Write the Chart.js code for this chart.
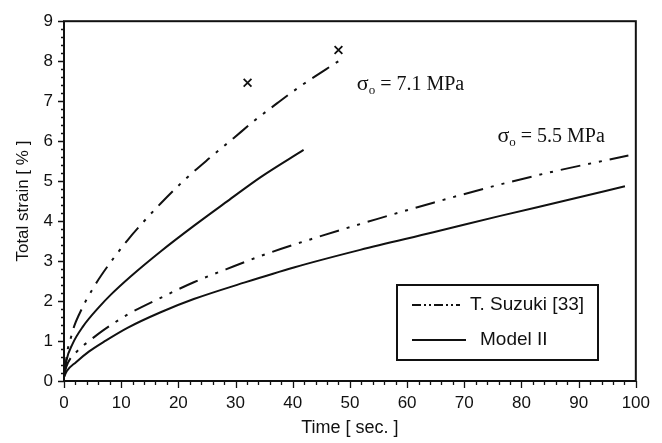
<!DOCTYPE html>
<html>
<head>
<meta charset="utf-8">
<title>Total strain vs time</title>
<script src="https://cdn.jsdelivr.net/npm/chart.js@4/dist/chart.umd.min.js"></script>
<style>
    html, body { margin: 0; padding: 0; background: #fff; }
    #wrap { width: 662px; height: 443px; }
</style>
</head>
<body>
<div id="wrap"><canvas id="strainChart" width="662" height="443"></canvas></div>
<script>
// time [s] and total strain [%] for each curve
const suzukiHighT = [0, 0.2, 0.6, 1.2, 1.8, 2.6, 3.8, 5.3, 6.5, 11.1, 13.7, 16.9, 21.0, 25.4, 29.7, 33.2, 37.3, 41.4, 48.0];
const suzukiHighS = [0.1, 0.3, 0.75, 1.08, 1.38, 1.65, 2.0, 2.37, 2.64, 3.52, 3.95, 4.44, 5.02, 5.57, 6.08, 6.5, 6.95, 7.38, 8.0];

const modelHighT = [0, 0.4, 1.5, 3.3, 6.2, 8.2, 11.7, 16.9, 22.7, 28.6, 34.4, 41.9];
const modelHighS = [0.1, 0.5, 0.93, 1.36, 1.86, 2.16, 2.62, 3.24, 3.88, 4.5, 5.1, 5.78];

const suzukiLowT = [0, 0.4, 2.4, 4.4, 6.0, 11.1, 16.9, 22.7, 29.7, 35.6, 43.7, 54.7, 64.6, 74.5, 85.0, 98.7];
const suzukiLowS = [0.1, 0.35, 0.76, 1.0, 1.18, 1.66, 2.08, 2.47, 2.87, 3.19, 3.57, 4.05, 4.46, 4.85, 5.22, 5.64];

const modelLowT = [0, 0.5, 2.1, 4.4, 7.3, 11.1, 16.9, 22.7, 31.5, 40.2, 51.8, 64.6, 76.3, 87.9, 98.1];
const modelLowS = [0.1, 0.25, 0.47, 0.74, 1.01, 1.33, 1.72, 2.05, 2.46, 2.84, 3.28, 3.72, 4.13, 4.52, 4.87];

// rupture points (x markers)
const ruptureT = [32.1, 48.0];
const ruptureS = [7.46, 8.28];

// stress labels: text and anchor in data units
const stressLabels = [
    { value: '7.1 MPa', t: 51.2, s: 7.27 },
    { value: '5.5 MPa', t: 75.8, s: 5.99 }
];

const legendItems = ['T. Suzuki [33]', 'Model II'];

const xMin = 0, xMax = 100, xStep = 10, xMinor = 2;
const yMin = 0, yMax = 9, yStep = 1, yMinor = 0.2;

const SANS = '"Liberation Sans", Arial, Helvetica, sans-serif';
const SERIF = '"Liberation Serif", "Times New Roman", serif';
const INK = '#111';
const SUZUKI_DASH = [20, 8, 3, 8, 3, 8];

const pts = (xs, ys) => xs.map((x, i) => ({ x, y: ys[i] }));

function curve(label, xs, ys, dashed) {
    return {
        label,
        data: pts(xs, ys),
        borderColor: INK,
        borderWidth: 2,
        borderDash: dashed ? SUZUKI_DASH : [],
        pointRadius: 0,
        fill: false,
        cubicInterpolationMode: 'monotone'
    };
}

// frame, minor/major ticks, stress labels and the boxed legend
const decorations = {
    id: 'decorations',
    afterDatasetsDraw(chart) {
        const { ctx, chartArea: a, scales: { x, y } } = chart;
        ctx.save();
        ctx.strokeStyle = INK;
        ctx.lineWidth = 2;
        ctx.strokeRect(a.left, a.top, a.right - a.left, a.bottom - a.top);

        ctx.lineWidth = 1.3;
        ctx.beginPath();
        for (let v = xMin; v <= xMax + 1e-6; v += xMinor) {
            const px = Math.round(x.getPixelForValue(v)) + 0.5;
            const major = Math.abs(v / xStep - Math.round(v / xStep)) < 1e-6;
            ctx.moveTo(px, a.bottom);
            ctx.lineTo(px, a.bottom + (major ? 7 : 4));
        }
        for (let v = yMin; v <= yMax + 1e-6; v += yMinor) {
            const py = Math.round(y.getPixelForValue(v)) + 0.5;
            const major = Math.abs(v / yStep - Math.round(v / yStep)) < 1e-6;
            ctx.moveTo(a.left, py);
            ctx.lineTo(a.left - (major ? 6 : 3), py);
        }
        ctx.stroke();

        // σo = ... MPa
        ctx.fillStyle = INK;
        ctx.textBaseline = 'alphabetic';
        ctx.textAlign = 'left';
        stressLabels.forEach(l => {
            let px = x.getPixelForValue(l.t);
            const py = y.getPixelForValue(l.s);
            ctx.font = '22px ' + SERIF;
            ctx.fillText('σ', px, py);
            px += ctx.measureText('σ').width;
            ctx.font = '13px ' + SERIF;
            ctx.fillText('o', px, py + 4);
            px += ctx.measureText('o').width;
            ctx.font = '20px ' + SERIF;
            ctx.fillText(' = ' + l.value, px, py);
        });

        // legend box
        const bx = 397, by = 285, bw = 201, bh = 75;
        ctx.lineWidth = 2;
        ctx.strokeRect(bx, by, bw, bh);
        ctx.font = '19px ' + SANS;
        ctx.textBaseline = 'middle';
        const rows = [
            { y: by + 20, x1: bx + 15, x2: bx + 63, dash: [9, 3, 2, 3, 2, 3], tx: bx + 73 },
            { y: by + 55, x1: bx + 15, x2: bx + 69, dash: [], tx: bx + 83 }
        ];
        rows.forEach((r, i) => {
            ctx.lineWidth = 2;
            ctx.setLineDash(r.dash);
            ctx.beginPath();
            ctx.moveTo(r.x1, r.y);
            ctx.lineTo(r.x2, r.y);
            ctx.stroke();
            ctx.setLineDash([]);
            ctx.fillText(legendItems[i], r.tx, r.y);
        });
        ctx.restore();
    }
};

new Chart(document.getElementById('strainChart'), {
    type: 'line',
    data: {
        datasets: [
            curve('T. Suzuki [33] 7.1', suzukiHighT, suzukiHighS, true),
            curve('Model II 7.1', modelHighT, modelHighS, false),
            curve('T. Suzuki [33] 5.5', suzukiLowT, suzukiLowS, true),
            curve('Model II 5.5', modelLowT, modelLowS, false),
            {
                type: 'scatter',
                label: 'rupture',
                data: pts(ruptureT, ruptureS),
                pointStyle: 'crossRot',
                pointRadius: 5.5,
                borderColor: INK,
                borderWidth: 1.8,
                showLine: false
            }
        ]
    },
    options: {
        responsive: false,
        animation: false,
        devicePixelRatio: 1,
        layout: { padding: { top: 16, right: 26, left: 0, bottom: 0 } },
        plugins: { legend: { display: false }, tooltip: { enabled: false } },
        scales: {
            x: {
                type: 'linear',
                min: xMin, max: xMax,
                grid: { display: false, drawTicks: false },
                border: { display: false },
                ticks: {
                    stepSize: xStep,
                    color: INK,
                    font: { family: SANS, size: 17 },
                    padding: 12,
                    maxRotation: 0
                },
                title: {
                    display: true,
                    text: 'Time [ sec. ]',
                    color: INK,
                    font: { family: SANS, size: 18 },
                    padding: { top: 0, bottom: 4 }
                },
                afterFit(scale) { scale.height = 62; }
            },
            y: {
                min: yMin, max: yMax,
                grid: { display: false, drawTicks: false },
                border: { display: false },
                ticks: {
                    stepSize: yStep,
                    color: INK,
                    font: { family: SANS, size: 17 },
                    padding: 11
                },
                title: {
                    display: true,
                    text: 'Total strain [ % ]',
                    color: INK,
                    font: { family: SANS, size: 17 },
                    padding: { top: 13, bottom: 0 }
                },
                afterFit(scale) { scale.width = 64; }
            }
        }
    },
    plugins: [decorations]
});
</script>
</body>
</html>
